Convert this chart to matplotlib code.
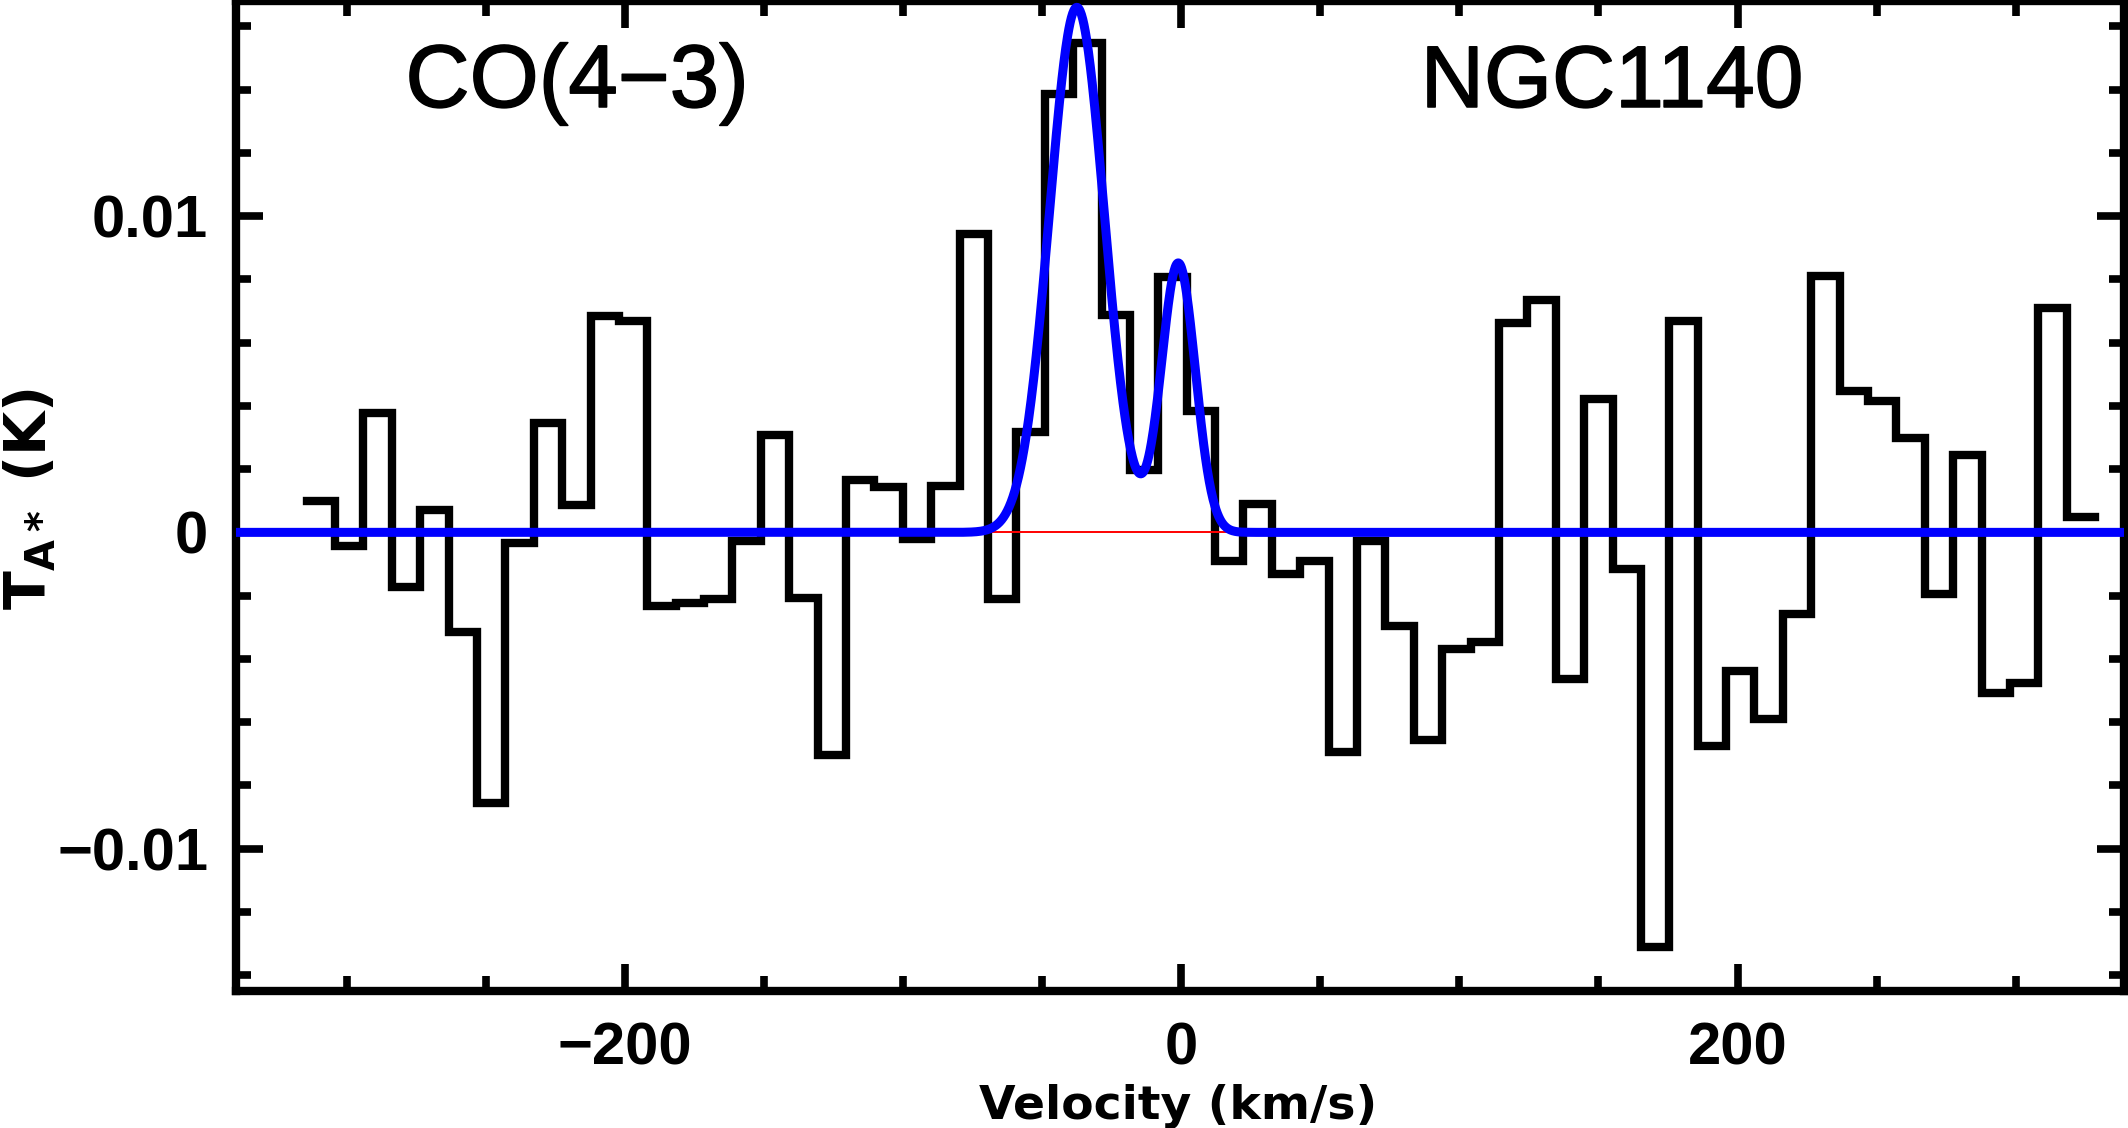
import numpy as np
import matplotlib
matplotlib.use("Agg")
import matplotlib.pyplot as plt
import matplotlib.patheffects as pe
from matplotlib.ticker import MultipleLocator

plt.rcParams['font.family'] = ['Liberation Sans', 'DejaVu Sans']
plt.rcParams['mathtext.fontset'] = 'dejavusans'

# ---- data -------------------------------------------------------------
# spectrum: channel grid and antenna temperature per channel (K)
vel_start = -314.6      # km/s, left edge of first channel
chan_width = 10.21      # km/s
t_a = [0.00100, -0.00043, 0.00378, -0.00173, 0.00071, -0.00314, -0.00855,
       -0.00034, 0.00345, 0.00086, 0.00685, 0.00668, -0.00232, -0.00222,
       -0.00212, -0.00026, 0.00309, -0.00209, -0.00705, 0.00167, 0.00144,
       -0.00020, 0.00146, 0.00943, -0.00211, 0.00316, 0.01385, 0.01546,
       0.00686, 0.00196, 0.00807, 0.00383, -0.00091, 0.00089, -0.00133,
       -0.00091, -0.00695, -0.00026, -0.00295, -0.00657, -0.00370, -0.00347,
       0.00663, 0.00735, -0.00464, 0.00422, -0.00117, -0.01312, 0.00668,
       -0.00674, -0.00437, -0.00589, -0.00259, 0.00809, 0.00446, 0.00416,
       0.00297, -0.00194, 0.00245, -0.00507, -0.00475, 0.00710, 0.00050]

# two-component Gaussian fit
fit_centers = [-37.6, -1.1]       # km/s
fit_amps = [0.0166, 0.0085]       # K
fit_sigmas = [9.9, 6.1]           # km/s

line_name = "CO(4\u22123)"
galaxy_name = "NGC1140"
x_label = "Velocity (km/s)"
y_label = r"T$_{\mathbf{A*}}$ (K)"

xtick_vals = [-200, 0, 200]
xtick_labels = ["\u2212200", "0", "200"]
ytick_vals = [-0.01, 0, 0.01]
ytick_labels = ["\u22120.01", "0", "0.01"]

xlim = (-340, 339)
ylim = (-0.0145, 0.0168)

# ---- figure -----------------------------------------------------------
W, H = 2128, 1128
fig = plt.figure(figsize=(W / 100, H / 100), dpi=100)
left, right = 236 / W, 2124 / W
bottom, top = 1 - 991 / H, 1 - 1 / H
ax = fig.add_axes([left, bottom, right - left, top - bottom])

edges = vel_start + chan_width * np.arange(len(t_a) + 1)
st = ax.stairs(t_a, edges, baseline=None, color='black', linewidth=6.0,
               zorder=2)
st.set_capstyle('projecting')
st.set_joinstyle('miter')

ax.axhline(0, color='red', linewidth=1.4, zorder=3)

vgrid = np.linspace(xlim[0], xlim[1], 3000)
model = np.zeros_like(vgrid)
for c, a, s in zip(fit_centers, fit_amps, fit_sigmas):
    model += a * np.exp(-0.5 * ((vgrid - c) / s) ** 2)
ax.plot(vgrid, model, color='#0000ff', linewidth=6.5, zorder=4,
        solid_capstyle='butt')

ax.set_xlim(*xlim)
ax.set_ylim(*ylim)

ax.set_xticks(xtick_vals, labels=xtick_labels, fontsize=43,
              fontweight='bold', family='Liberation Sans')
ax.set_yticks(ytick_vals, labels=ytick_labels, fontsize=43,
              fontweight='bold', family='Liberation Sans')
ax.xaxis.set_minor_locator(MultipleLocator(50))
ax.yaxis.set_minor_locator(MultipleLocator(0.002))

ax.tick_params(which='both', direction='in', top=True, right=True,
               width=5.5, color='black')
ax.tick_params(which='major', length=19.5)
ax.tick_params(which='minor', length=10.8)
ax.tick_params(axis='x', which='major', pad=22)
ax.tick_params(axis='y', which='major', pad=20)

for sp in ax.spines.values():
    sp.set_linewidth(6.0)
    sp.set_color('black')

thick = [pe.withStroke(linewidth=1.1, foreground='black')]
fig.text(577 / W, 1 - 107 / H, line_name, ha='center', va='baseline',
         fontsize=64, family='Liberation Sans', path_effects=thick)
fig.text(1612 / W, 1 - 107 / H, galaxy_name, ha='center', va='baseline',
         fontsize=63, family='Liberation Sans', path_effects=thick)

fig.text(1178 / W, 1 - 1119 / H, x_label, ha='center', va='baseline',
         fontsize=34, fontweight='bold', family='DejaVu Sans')
fig.text(47 / W, 1 - 499 / H, y_label, ha='center', va='baseline',
         rotation=90, rotation_mode='anchor',
         fontsize=41, fontweight='bold', family='DejaVu Sans')

fig.savefig("out.png", dpi=100)
